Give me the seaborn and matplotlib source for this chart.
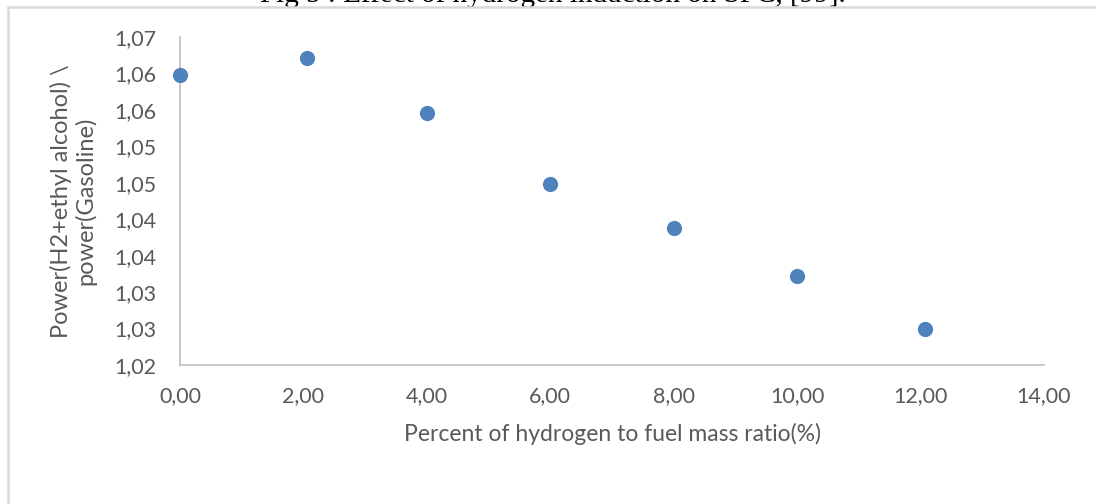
import matplotlib
matplotlib.use("Agg")
import matplotlib.pyplot as plt
from matplotlib.patches import Rectangle
from matplotlib.ticker import FuncFormatter, MultipleLocator
import seaborn as sns
import pandas as pd

# Hydrogen share in fuel mass (%) and power ratio vs. gasoline
hydrogen_pct = [0.0, 2.05, 4.0, 6.0, 8.0, 10.0, 12.07]
power_ratio = [1.0598, 1.0621, 1.0546, 1.0448, 1.0388, 1.0322, 1.0249]

title_text = "Fig 5 : Effect of hydrogen induction on SFC, [99]."
x_label = "Percent of hydrogen to fuel mass ratio(%)"
y_label = "Power(H2+ethyl alcohol) \\\npower(Gasoline)"

df = pd.DataFrame({"h2": hydrogen_pct, "ratio": power_ratio})

sns.set_theme(style="white")
plt.rcParams["font.family"] = ["Lato", "DejaVu Sans"]

fig = plt.figure(figsize=(10.96, 5.04), dpi=100)
ax = fig.add_axes([180 / 1096, 1 - 365 / 504, (1044 - 180) / 1096, (365 - 37) / 504])

sns.scatterplot(data=df, x="h2", y="ratio", ax=ax, s=120, color="#4F81BD",
                edgecolor="#4F81BD", linewidth=0, zorder=3, clip_on=False)

ax.set_xlim(0, 14)
ax.set_ylim(1.02, 1.065)
ax.xaxis.set_major_locator(MultipleLocator(2))
ax.yaxis.set_major_locator(MultipleLocator(0.005))


def comma_fmt(decimals):
    def f(v, _):
        # round half up as spreadsheet software does
        scaled = int(v * 10 ** decimals + 0.5 + 1e-9)
        s = f"{scaled / 10 ** decimals:.{decimals}f}"
        return s.replace(".", ",")
    return FuncFormatter(f)


ax.xaxis.set_major_formatter(comma_fmt(2))
ax.yaxis.set_major_formatter(comma_fmt(2))

tick_color = "#595959"
ax.tick_params(axis="both", length=0, labelsize=15.5, labelcolor=tick_color)
ax.tick_params(axis="x", pad=15)
ax.tick_params(axis="y", pad=17)

for side in ("top", "right"):
    ax.spines[side].set_visible(False)
for side in ("left", "bottom"):
    ax.spines[side].set_color("#BFBFBF")
    ax.spines[side].set_linewidth(1.2)

ax.set_xlabel(x_label, fontsize=16.5, color=tick_color, labelpad=12)
ax.set_ylabel(y_label, fontsize=17, color=tick_color, labelpad=13,
              linespacing=1.1)
ax.grid(False)

# Outer chart frame
fig.add_artist(Rectangle((8 / 1096, -0.01), 1.1, 1 - 7 / 504 + 0.01,
                         transform=fig.transFigure, fill=False,
                         edgecolor="#D9D9D9", linewidth=1.8, zorder=5))

# Caption above the frame
fig.text(553 / 1096, 1 - 1.5 / 504, title_text, ha="center", va="baseline",
         fontsize=21, family="Liberation Serif", color="black", zorder=4)

fig.savefig("out.png", dpi=100, facecolor="white")
